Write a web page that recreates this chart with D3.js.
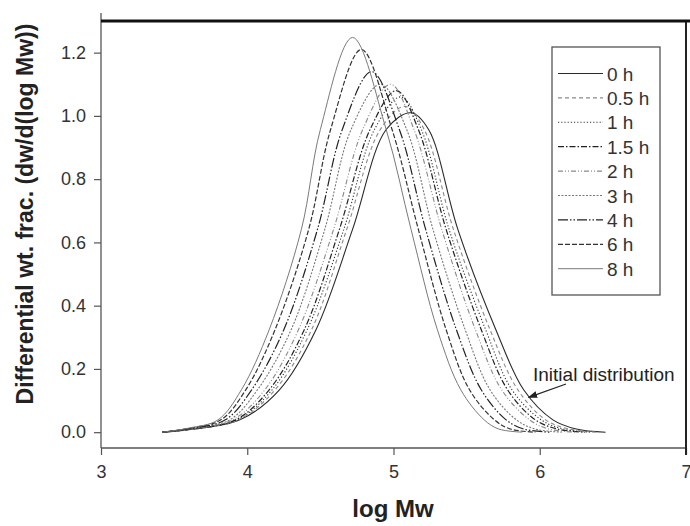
<!DOCTYPE html>
<html>
<head>
<meta charset="utf-8">
<script src="https://cdn.jsdelivr.net/npm/d3@7"></script>
<style>
  body { margin: 0; background: #fff; }
  text { font-family: "Liberation Sans", Arial, sans-serif; }
</style>
</head>
<body>
<div id="chart"></div>
<script>

// Set dimensions and margins for the plot
const width = 690;
const height = 526;
const margin = {left: 101, right: 4, top: 21, bottom: 78};

// Legend labels (time of degradation)
const labels = ["0 h", "0.5 h", "1 h", "1.5 h", "2 h", "3 h", "4 h", "6 h", "8 h"];

// Tick values
const xTicks = [3, 4, 5, 6, 7];
const yTicks = [0.0, 0.2, 0.4, 0.6, 0.8, 1.0, 1.2];

// Curves: [log Mw, dw/d(log Mw)]
const h0 = [[3.42,0],[3.6,0.008],[3.95,0.039],[4.22,0.134],[4.47,0.324],[4.72,0.641],[4.95,0.957],[5.12,1.01],
            [5.24,0.957],[5.44,0.641],[5.70,0.324],[5.89,0.134],[6.09,0.039],[6.25,0.01],[6.45,0]];
const h05 = [[3.42,0],[3.6,0.008],[3.94,0.039],[4.19,0.134],[4.44,0.324],[4.68,0.641],[4.91,0.957],[5.08,1.03],
             [5.21,0.957],[5.41,0.641],[5.66,0.324],[5.85,0.134],[6.04,0.039],[6.20,0.01],[6.39,0]];
const h1 = [[3.42,0],[3.6,0.009],[3.93,0.039],[4.17,0.134],[4.41,0.324],[4.66,0.641],[4.87,0.957],[5.05,1.06],
            [5.19,0.957],[5.38,0.641],[5.63,0.324],[5.81,0.134],[6.01,0.039],[6.16,0.01],[6.35,0]];
const h15 = [[3.42,0],[3.6,0.009],[3.92,0.039],[4.15,0.134],[4.39,0.324],[4.63,0.641],[4.84,0.957],[5.02,1.08],
             [5.17,0.957],[5.36,0.641],[5.60,0.324],[5.78,0.134],[5.97,0.039],[6.12,0.01],[6.31,0]];
const h2 = [[3.42,0],[3.6,0.010],[3.90,0.039],[4.12,0.134],[4.35,0.324],[4.59,0.641],[4.79,0.957],[4.98,1.10],
            [5.14,0.957],[5.33,0.641],[5.56,0.324],[5.74,0.134],[5.93,0.039],[6.06,0.01],[6.25,0]];
const h3 = [[3.42,0],[3.6,0.010],[3.88,0.039],[4.07,0.134],[4.30,0.324],[4.53,0.641],[4.71,0.957],[4.91,1.10],
            [5.09,0.957],[5.27,0.641],[5.49,0.324],[5.66,0.134],[5.84,0.039],[5.97,0.01],[6.15,0]];
const h4 = [[3.42,0],[3.6,0.011],[3.85,0.039],[4.03,0.134],[4.25,0.324],[4.48,0.641],[4.65,0.957],[4.85,1.14],
            [5.04,0.957],[5.22,0.641],[5.43,0.324],[5.60,0.134],[5.77,0.039],[5.89,0.01],[6.07,0]];
const h6 = [[3.42,0],[3.6,0.012],[3.82,0.039],[3.99,0.134],[4.19,0.324],[4.42,0.641],[4.57,0.957],[4.78,1.21],
            [4.99,0.957],[5.17,0.641],[5.36,0.324],[5.52,0.134],[5.69,0.039],[5.80,0.01],[5.97,0]];
const h8 = [[3.42,0],[3.6,0.013],[3.80,0.039],[3.96,0.134],[4.15,0.324],[4.37,0.641],[4.50,0.957],[4.72,1.248],
            [4.95,0.957],[5.12,0.641],[5.30,0.324],[5.46,0.134],[5.62,0.039],[5.72,0.01],[5.88,0]];

const curves = [h0, h05, h1, h15, h2, h3, h4, h6, h8];

// Line styles for each series (stroke colour, width, dash pattern)
const styles = [
  {color: "#2a2a2a", w: 1.1, dash: null},
  {color: "#8a8a8a", w: 1.1, dash: "4,3"},
  {color: "#333",    w: 1.1, dash: "1.2,2"},
  {color: "#222",    w: 1.2, dash: "6,2,1.5,2"},
  {color: "#8a8a8a", w: 1.1, dash: "5,2,1,2,1,2"},
  {color: "#777",    w: 1.1, dash: "2,1.5"},
  {color: "#222",    w: 1.2, dash: "10,2,1.5,2,1.5,2"},
  {color: "#333",    w: 1.2, dash: "5,2"},
  {color: "#7a7a7a", w: 1.0, dash: null}
];

// Annotation point (where the arrow ends)
const noteText = "Initial distribution";
const notePoint = [5.91, 0.11];

const svg = d3.select("#chart")
  .append("svg")
  .attr("width", width)
  .attr("height", height);

// Scales
const xScale = d3.scaleLinear()
  .domain([3, 7])
  .range([margin.left, width - margin.right]);

const yScale = d3.scaleLinear()
  .domain([-0.05, 1.3])
  .range([height - margin.bottom, margin.top]);

/*

  Axes

*/

const yAxis = svg.append("g")
  .attr("transform", `translate(${margin.left}, 0)`)
  .call(d3.axisLeft(yScale)
        .tickValues(yTicks)
        .tickFormat(d3.format(".1f"))
        .tickSize(7)
        .tickPadding(8)
        .tickSizeOuter(0));
yAxis.select(".domain").remove();
yAxis.selectAll("line").attr("stroke", "#555").attr("stroke-width", 1.2);
yAxis.selectAll("text").attr("font-size", "18px").attr("fill", "#333")
  .attr("font-family", "Liberation Sans, Arial, sans-serif");

const xAxis = svg.append("g")
  .attr("transform", `translate(0, ${height - margin.bottom})`)
  .call(d3.axisBottom(xScale)
        .tickValues(xTicks)
        .tickFormat(d3.format("d"))
        .tickSize(7)
        .tickPadding(10)
        .tickSizeOuter(0));
xAxis.select(".domain").remove();
xAxis.selectAll("line").attr("stroke", "#555").attr("stroke-width", 1.2);
xAxis.selectAll("text").attr("font-size", "18px").attr("fill", "#333")
  .attr("font-family", "Liberation Sans, Arial, sans-serif");

// Frame lines
const x0 = xScale.range()[0], x1 = xScale.range()[1];
const y0 = yScale.range()[0], y1 = yScale.range()[1];

svg.append("line") // left
  .attr("x1", x0).attr("x2", x0).attr("y1", y1 - 8).attr("y2", y0)
  .attr("stroke", "#555").attr("stroke-width", 1.3);
svg.append("line") // bottom
  .attr("x1", x0).attr("x2", x1).attr("y1", y0).attr("y2", y0)
  .attr("stroke", "#555").attr("stroke-width", 1.6);
svg.append("line") // right
  .attr("x1", x1).attr("x2", x1).attr("y1", y1).attr("y2", y0 + 7)
  .attr("stroke", "#222").attr("stroke-width", 2);
svg.append("line") // top
  .attr("x1", x0).attr("x2", width).attr("y1", y1).attr("y2", y1)
  .attr("stroke", "#111").attr("stroke-width", 3);

// Axis titles
svg.append("text")
  .attr("x", 393)
  .attr("y", 517)
  .attr("text-anchor", "middle")
  .attr("font-size", "24px")
  .attr("font-weight", "bold")
  .attr("fill", "#222")
  .text("log Mw");

svg.append("text")
  .attr("transform", `translate(33, 214) rotate(-90)`)
  .attr("text-anchor", "middle")
  .attr("font-size", "23px")
  .attr("font-weight", "bold")
  .attr("fill", "#222")
  .text("Differential wt. frac. (dw/d(log Mw))");

/*

  Curves

*/

const line = d3.line()
  .x(d => xScale(d[0]))
  .y(d => yScale(d[1]))
  .curve(d3.curveCatmullRom.alpha(0.5));

svg.selectAll(".curve")
  .data(curves)
  .enter()
  .append("path")
    .attr("class", "curve")
    .attr("d", d => line(d))
    .attr("fill", "none")
    .attr("stroke", (d, i) => styles[i].color)
    .attr("stroke-width", (d, i) => styles[i].w)
    .attr("stroke-dasharray", (d, i) => styles[i].dash);

/*

  Legend

*/

const legend = svg.append("g");
legend.append("rect")
  .attr("x", 552).attr("y", 47)
  .attr("width", 108).attr("height", 248)
  .attr("fill", "#fff")
  .attr("stroke", "#555")
  .attr("stroke-width", 1.3);

const rows = legend.selectAll(".row")
  .data(labels)
  .enter()
  .append("g")
    .attr("class", "row")
    .attr("transform", (d, i) => `translate(0, ${73.5 + i * 24.4})`);

rows.append("line")
  .attr("x1", 558).attr("x2", 603)
  .attr("y1", 0).attr("y2", 0)
  .attr("stroke", (d, i) => styles[i].color)
  .attr("stroke-width", (d, i) => styles[i].w)
  .attr("stroke-dasharray", (d, i) => styles[i].dash);

rows.append("text")
  .attr("x", 607)
  .attr("y", 7)
  .attr("font-size", "19px")
  .attr("fill", "#333")
  .text(d => d);

/*

  Annotation

*/

svg.append("defs").append("marker")
  .attr("id", "arrow")
  .attr("viewBox", "0 0 10 10")
  .attr("refX", 9).attr("refY", 5)
  .attr("markerWidth", 8).attr("markerHeight", 8)
  .attr("orient", "auto")
  .append("path")
    .attr("d", "M0,1.5 L10,5 L0,8.5 Z")
    .attr("fill", "#222");

svg.append("line")
  .attr("x1", 566).attr("y1", 384)
  .attr("x2", xScale(notePoint[0]) + 2).attr("y2", yScale(notePoint[1]))
  .attr("stroke", "#222").attr("stroke-width", 1.2)
  .attr("marker-end", "url(#arrow)");

svg.append("text")
  .attr("x", 533)
  .attr("y", 381)
  .attr("font-size", "19px")
  .attr("fill", "#222")
  .text(noteText);

</script>
</body>
</html>
